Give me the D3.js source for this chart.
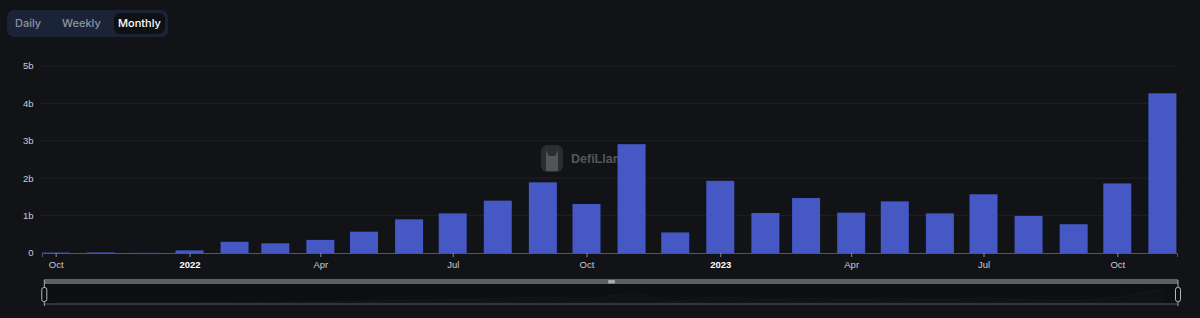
<!DOCTYPE html>
<html>
<head>
<meta charset="utf-8">
<script src="https://cdn.jsdelivr.net/npm/d3@7"></script>
<style>
  html, body { margin: 0; padding: 0; background: #121317; }
  svg { display: block; }
</style>
</head>
<body>
<svg id="chart" width="1200" height="318"></svg>
<script>
/* ---------- data ---------- */
const months = [
  "2021-10", "2021-11", "2021-12",
  "2022-01", "2022-02", "2022-03", "2022-04", "2022-05", "2022-06",
  "2022-07", "2022-08", "2022-09", "2022-10", "2022-11", "2022-12",
  "2023-01", "2023-02", "2023-03", "2023-04", "2023-05", "2023-06",
  "2023-07", "2023-08", "2023-09", "2023-10", "2023-11"
];
// monthly volume, billions USD
const volumes = [
  0.012, 0.015, 0.003,
  0.07, 0.30, 0.26, 0.35, 0.57, 0.90,
  1.06, 1.40, 1.89, 1.31, 2.91, 0.55,
  1.93, 1.07, 1.47, 1.08, 1.38, 1.06,
  1.57, 0.99, 0.77, 1.86, 4.27
];
const yTicks = [0, 1e9, 2e9, 3e9, 4e9, 5e9];
const yTickLabels = ["0", "1b", "2b", "3b", "4b", "5b"];
const periods = ["Daily", "Weekly", "Monthly"];
const activePeriod = "Monthly";

const parseMonth = d3.timeParse("%Y-%m");
const data = months.map((m, i) => ({ date: parseMonth(m), value: volumes[i] * 1e9 }));

/* ---------- scales ---------- */
const svg = d3.select("#chart");
const plotL = 42, plotR = 1177, plotT = 66, plotB = 253;

// anchor the time scale on two tick positions, then widen to the plot edges
const x = d3.scaleTime()
  .domain([new Date(2021, 9, 1), new Date(2023, 9, 1)])
  .range([55.7, 1117.3]);
x.domain([x.invert(plotL), x.invert(plotR)]).range([plotL, plotR]);

const y = d3.scaleLinear().domain([0, 5e9]).range([plotB, plotT]);

/* ---------- period toggle ---------- */
const btnG = svg.append("g");
btnG.append("rect")
  .attr("x", 7).attr("y", 10).attr("width", 161).attr("height", 27)
  .attr("rx", 7).attr("fill", "#1b2436");
const btnX = [15, 62, 114];
periods.forEach((p, i) => {
  const on = p === activePeriod;
  if (on) {
    btnG.append("rect")
      .attr("x", btnX[i]).attr("y", 13).attr("width", 51).attr("height", 21)
      .attr("rx", 6).attr("fill", "#0e1014");
  }
  btnG.append("text")
    .attr("x", on ? btnX[i] + 25.5 : btnX[i])
    .attr("y", 27)
    .attr("text-anchor", on ? "middle" : "start")
    .attr("font-family", "Inter, 'Noto Sans', sans-serif")
    .attr("font-size", 11)
    .attr("font-weight", 500)
    .attr("fill", on ? "#ffffff" : "#8b93a4")
    .text(p);
});

/* ---------- grid + y labels ---------- */
svg.append("g")
  .selectAll("line")
  .data(yTicks.slice(1))
  .join("line")
  .attr("x1", 40).attr("x2", plotR)
  .attr("y1", (d) => y(d)).attr("y2", (d) => y(d))
  .attr("stroke", "#1e2027").attr("stroke-width", 1);

svg.append("g")
  .selectAll("text")
  .data(yTicks)
  .join("text")
  .attr("x", 33.5)
  .attr("y", (d) => y(d) + 3.4)
  .attr("text-anchor", "end")
  .attr("font-family", "'Liberation Sans', Arial, sans-serif")
  .attr("font-size", 9.5)
  .attr("fill", "#c9ccd3")
  .text((d, i) => yTickLabels[i]);

/* ---------- watermark (sits under the bars) ---------- */
const wm = svg.append("g").attr("opacity", 0.9);
wm.append("rect")
  .attr("x", 541).attr("y", 145).attr("width", 22).attr("height", 27)
  .attr("rx", 6).attr("fill", "#2e2f33");
wm.append("path")
  .attr("d", "M546,150 L549,156 L555,156 L558,150 L558,171 L546,171 Z")
  .attr("fill", "#5b5c60");
wm.append("text")
  .attr("x", 571).attr("y", 163)
  .attr("font-family", "'Liberation Sans', Arial, sans-serif")
  .attr("font-size", 12.5)
  .attr("font-weight", 700)
  .attr("fill", "#5c5d62")
  .text("DefiLlama");

/* ---------- bars ---------- */
const barW = 28;
svg.append("g")
  .selectAll("rect")
  .data(data)
  .join("rect")
  .attr("x", (d) => x(d.date) - barW / 2)
  .attr("y", (d) => y(d.value))
  .attr("width", barW)
  .attr("height", (d) => plotB - y(d.value))
  .attr("fill", "#4558c4");

/* ---------- x axis ---------- */
const xAxis = d3.axisBottom(x)
  .ticks(d3.timeMonth.every(3))
  .tickSize(4)
  .tickPadding(4)
  .tickFormat((d) => (d.getMonth() === 0 ? d3.timeFormat("%Y")(d) : d3.timeFormat("%b")(d)));

const xg = svg.append("g")
  .attr("transform", `translate(0,${plotB})`)
  .call(xAxis);
xg.select(".domain").attr("stroke", "#55575e");
xg.selectAll(".tick line").attr("stroke", "#8a8c92");
xg.selectAll(".tick text")
  .attr("font-family", "'Liberation Sans', Arial, sans-serif")
  .attr("font-size", 9.5)
  .attr("fill", (d) => (d.getMonth() === 0 ? "#ffffff" : "#c9ccd3"))
  .attr("font-weight", (d) => (d.getMonth() === 0 ? 700 : 400));

/* ---------- data zoom slider ---------- */
const sl = svg.append("g");
const sTop = 279, sBot = 304;
sl.append("rect")
  .attr("x", 44).attr("y", sTop).attr("width", 1134).attr("height", sBot - sTop)
  .attr("fill", "#0e0f12");

const sy = d3.scaleLinear().domain([0, 5e9]).range([sBot - 1, sTop + 8]);
sl.append("path")
  .datum(data)
  .attr("d", d3.area()
    .x((d) => x(d.date))
    .y0(sBot - 1)
    .y1((d) => sy(d.value))
    .curve(d3.curveMonotoneX))
  .attr("fill", "rgba(255,255,255,0.015)")
  .attr("stroke", "rgba(255,255,255,0.03)");

sl.append("rect")
  .attr("x", 44).attr("y", sTop).attr("width", 1134).attr("height", 5)
  .attr("fill", "#5e5f63");
sl.append("line")
  .attr("x1", 44).attr("x2", 1178).attr("y1", sBot).attr("y2", sBot)
  .attr("stroke", "#404146").attr("stroke-width", 1.5);

// end handles
[44.3, 1178].forEach((hx) => {
  sl.append("line")
    .attr("x1", hx).attr("x2", hx).attr("y1", sTop + 1).attr("y2", sBot + 2)
    .attr("stroke", "#a7a8ac").attr("stroke-width", 1);
  sl.append("rect")
    .attr("x", hx - 2.5).attr("y", 287.5).attr("width", 5).attr("height", 14)
    .attr("rx", 2).attr("fill", "#0e0f12")
    .attr("stroke", "#b9babd").attr("stroke-width", 1);
});

// middle move handle
sl.append("rect")
  .attr("x", 608).attr("y", 280).attr("width", 7).attr("height", 3.5)
  .attr("rx", 1).attr("fill", "#a9aaad");
</script>
</body>
</html>
